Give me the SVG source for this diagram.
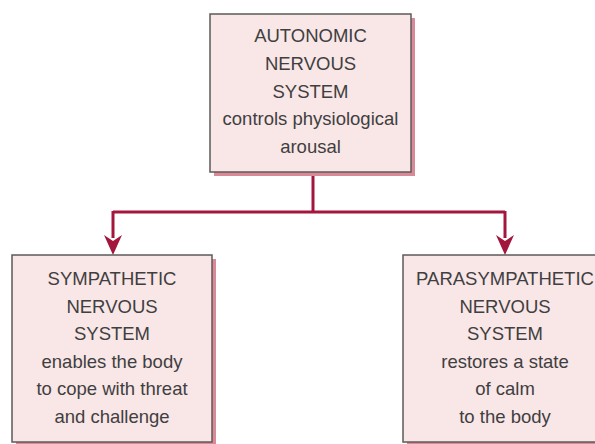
<svg xmlns="http://www.w3.org/2000/svg" width="595" height="444" viewBox="0 0 595 444">
<style>
.box{fill:#f9e6e7;stroke:#5e5a5a;stroke-width:1.5}
.shadow{fill:#d88b97}
.t{font-family:"Liberation Sans",Arial,sans-serif;font-size:18.5px;fill:#3f3f3f;text-anchor:middle}
.wire{fill:none;stroke:#a3173c;stroke-width:3}
</style>
<g id="connectors">
<path class="wire" d="M313,172 V212"/>
<path class="wire" d="M113,212 H505"/>
<path class="wire" d="M113,211 V238"/>
<path class="wire" d="M505,211 V238"/>
<path d="M104,235 L113,241 L122,235 L113,255 Z" fill="#a3173c"/>
<path d="M496,235 L505,241 L514,235 L505,255 Z" fill="#a3173c"/>
</g>
<g id="autonomic">
<rect class="shadow" x="214" y="18" width="201" height="158"/>
<rect class="box" x="210" y="14" width="201" height="158"/>
<text class="t" x="310.5" y="42">AUTONOMIC</text>
<text class="t" x="310.5" y="70">NERVOUS</text>
<text class="t" x="310.5" y="98">SYSTEM</text>
<text class="t" x="310.5" y="125">controls physiological</text>
<text class="t" x="310.5" y="153">arousal</text>
</g>
<g id="sympathetic">
<rect class="shadow" x="16" y="259" width="200" height="188"/>
<rect class="box" x="12" y="255" width="200" height="187"/>
<text class="t" x="112" y="285">SYMPATHETIC</text>
<text class="t" x="112" y="313">NERVOUS</text>
<text class="t" x="112" y="340">SYSTEM</text>
<text class="t" x="112" y="368">enables the body</text>
<text class="t" x="112" y="395">to cope with threat</text>
<text class="t" x="112" y="423">and challenge</text>
</g>
<g id="parasympathetic">
<rect class="shadow" x="407" y="259" width="204" height="188"/>
<rect class="box" x="403" y="255" width="204" height="187"/>
<text class="t" x="505" y="285">PARASYMPATHETIC</text>
<text class="t" x="505" y="313">NERVOUS</text>
<text class="t" x="505" y="340">SYSTEM</text>
<text class="t" x="505" y="368">restores a state</text>
<text class="t" x="505" y="395">of calm</text>
<text class="t" x="505" y="423">to the body</text>
</g>
</svg>
